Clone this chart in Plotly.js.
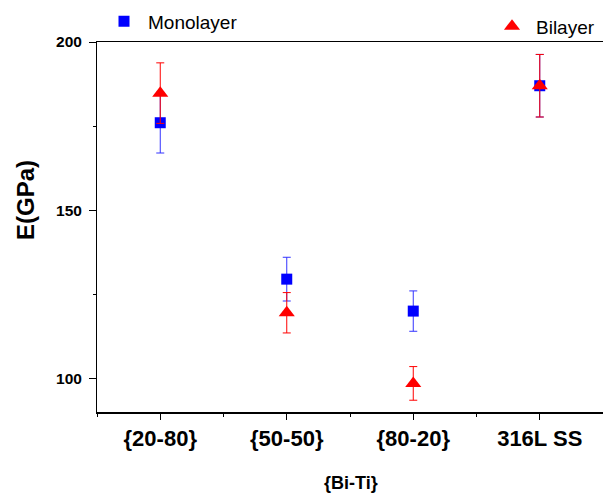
<!DOCTYPE html>
<html>
<head>
<meta charset="utf-8">
<script src="https://cdn.plot.ly/plotly-3.0.1.min.js"></script>
<style>html,body{margin:0;padding:0;background:#fff;}#chart{width:603px;height:494px;}</style>
</head>
<body>
<div id="chart"></div>
<script>
const categories = ["{20-80}", "{50-50}", "{80-20}", "316L SS"];
const monoValues = [176, 129.5, 120, 187];
const monoErrors = [9, 6.5, 6, 9.3];
const biValues = [184.8, 119.5, 98.5, 187];
const biErrors = [9, 6, 5, 9.3];
const yTickVals = [100, 150, 200];

const xIdx = categories.map((c, i) => i);

const traces = [
  {
    x: xIdx, y: monoValues, name: "Monolayer", type: "scatter", mode: "markers",
    marker: {symbol: "square", size: 11, color: "#0000ff"},
    error_y: {type: "data", array: monoErrors, visible: true, color: "#3333ff", thickness: 1, width: 4},
    legend: "legend"
  },
  {
    x: xIdx, y: biValues, name: "Bilayer", type: "scatter", mode: "markers",
    marker: {symbol: "triangle-up", size: 14, color: "#ff0000"},
    error_y: {type: "data", array: biErrors, visible: true, color: "#ff0000", thickness: 1, width: 4},
    legend: "legend2"
  }
];

const layout = {
  width: 603, height: 494,
  margin: {l: 97, r: 0, t: 42, b: 82, autoexpand: false},
  paper_bgcolor: "#fff", plot_bgcolor: "#fff",
  font: {family: "Liberation Sans, Arial, sans-serif", color: "#000"},
  xaxis: {
    range: [-0.5, 3.5], automargin: false,
    tickmode: "array", tickvals: xIdx, ticktext: categories.map(c => "<b>" + c + "</b>"),
    ticks: "outside", ticklen: 6, tickwidth: 1, tickcolor: "#000",
    minor: {tickmode: "array", tickvals: [-0.5, 0.5, 1.5, 2.5], ticks: "outside", ticklen: 3, tickcolor: "#000"},
    showline: true, linecolor: "#000", linewidth: 1.5, mirror: true,
    showgrid: false, zeroline: false,
    tickfont: {size: 22}
  },
  yaxis: {
    range: [90, 200], automargin: false,
    tickmode: "array", tickvals: yTickVals, ticktext: yTickVals.map(v => "<b>" + v + "</b>"),
    ticks: "outside", ticklen: 7, tickwidth: 1, tickcolor: "#000", ticklabelstandoff: 4,
    minor: {tickmode: "array", tickvals: [125, 175], ticks: "outside", ticklen: 3, tickcolor: "#000"},
    showline: true, linecolor: "#000", linewidth: 1,
    showgrid: false, zeroline: false,
    tickfont: {size: 15.5}
  },
  annotations: [
    {text: "<b>E(GPa)</b>", xref: "paper", yref: "paper", x: -97/506 + 25/506, y: (412-200)/370, xanchor: "center", yanchor: "middle",
     textangle: -90, showarrow: false, font: {size: 24}},
    {text: "<b>{Bi-Ti}</b>", xref: "paper", yref: "paper", x: (351-97)/506, y: -(483-412)/370, xanchor: "center", yanchor: "middle",
     showarrow: false, font: {size: 18}}
  ],
  showlegend: true,
  legend: {x: 100/603, xref: "container", y: 0.995, yref: "container", yanchor: "top", xanchor: "left",
           font: {size: 19}, bgcolor: "rgba(0,0,0,0)", itemwidth: 38},
  legend2: {x: 488/603, xref: "container", y: 0.985, yref: "container", yanchor: "top", xanchor: "left",
            font: {size: 19}, bgcolor: "rgba(0,0,0,0)", itemwidth: 38}
};

Plotly.newPlot("chart", traces, layout, {displayModeBar: false, staticPlot: true});
</script>
</body>
</html>
